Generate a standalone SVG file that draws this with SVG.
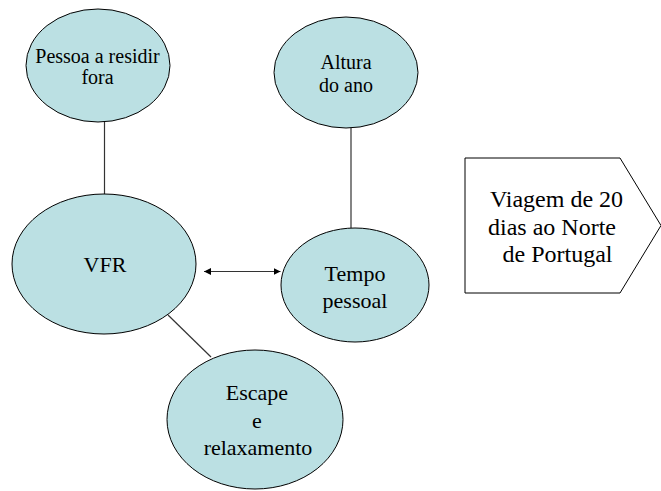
<svg xmlns="http://www.w3.org/2000/svg" width="661" height="491" viewBox="0 0 661 491">
<style>
.node ellipse{fill:#bbe0e3;stroke:#000;stroke-width:1}
text{font-family:'Liberation Serif','DejaVu Serif',serif;fill:#000;text-anchor:middle}
.conn line{stroke:#333;stroke-width:1.2}
</style>
<defs>
<marker id="ah" viewBox="0 0 10 10" refX="10" refY="5" markerWidth="7" markerHeight="7" markerUnits="userSpaceOnUse" orient="auto-start-reverse">
<path d="M0,0 L10,5 L0,10 z" fill="#000"/>
</marker>
</defs>
<rect width="661" height="491" fill="#fff"/>
<g id="connectors" class="conn">
<line x1="104.5" y1="122" x2="104.5" y2="194"/>
<line x1="351" y1="128" x2="351" y2="228"/>
<line x1="168" y1="315" x2="211" y2="357"/>
<line x1="204" y1="271.5" x2="280.5" y2="271.5" stroke-width="1.6" marker-start="url(#ah)" marker-end="url(#ah)"/>
</g>
<g id="pessoa" class="node" font-family="Liberation Serif, DejaVu Serif, serif">
<ellipse cx="98" cy="65.5" rx="72" ry="56.5"/>
<text x="97.5" y="63" font-size="20">Pessoa a residir</text>
<text x="97.5" y="84" font-size="20">fora</text>
</g>
<g id="altura" class="node" font-family="Liberation Serif, DejaVu Serif, serif">
<ellipse cx="346" cy="72.5" rx="72" ry="55.5"/>
<text x="346" y="69" font-size="20">Altura</text>
<text x="346" y="92" font-size="20">do ano</text>
</g>
<g id="vfr" class="node" font-family="Liberation Serif, DejaVu Serif, serif">
<ellipse cx="104" cy="264" rx="92" ry="70"/>
<text x="105" y="272" font-size="22">VFR</text>
</g>
<g id="tempo" class="node" font-family="Liberation Serif, DejaVu Serif, serif">
<ellipse cx="355" cy="285" rx="74" ry="57"/>
<text x="355" y="281" font-size="22">Tempo</text>
<text x="355" y="308" font-size="22">pessoal</text>
</g>
<g id="escape" class="node" font-family="Liberation Serif, DejaVu Serif, serif">
<ellipse cx="255" cy="419.5" rx="88" ry="69.5"/>
<text x="257" y="400" font-size="22">Escape</text>
<text x="257" y="428" font-size="22">e</text>
<text x="258" y="455" font-size="22">relaxamento</text>
</g>
<g id="viagem" class="shape" font-family="Liberation Serif, DejaVu Serif, serif">
<polygon points="465,158 620,158 661,225.5 620,293 465,293" fill="#fff" stroke="#000" stroke-width="1"/>
<text x="556.5" y="207" font-size="24">Viagem de 20</text>
<text x="552" y="235" font-size="24">dias ao Norte</text>
<text x="557.5" y="262" font-size="24">de Portugal</text>
</g>
</svg>
